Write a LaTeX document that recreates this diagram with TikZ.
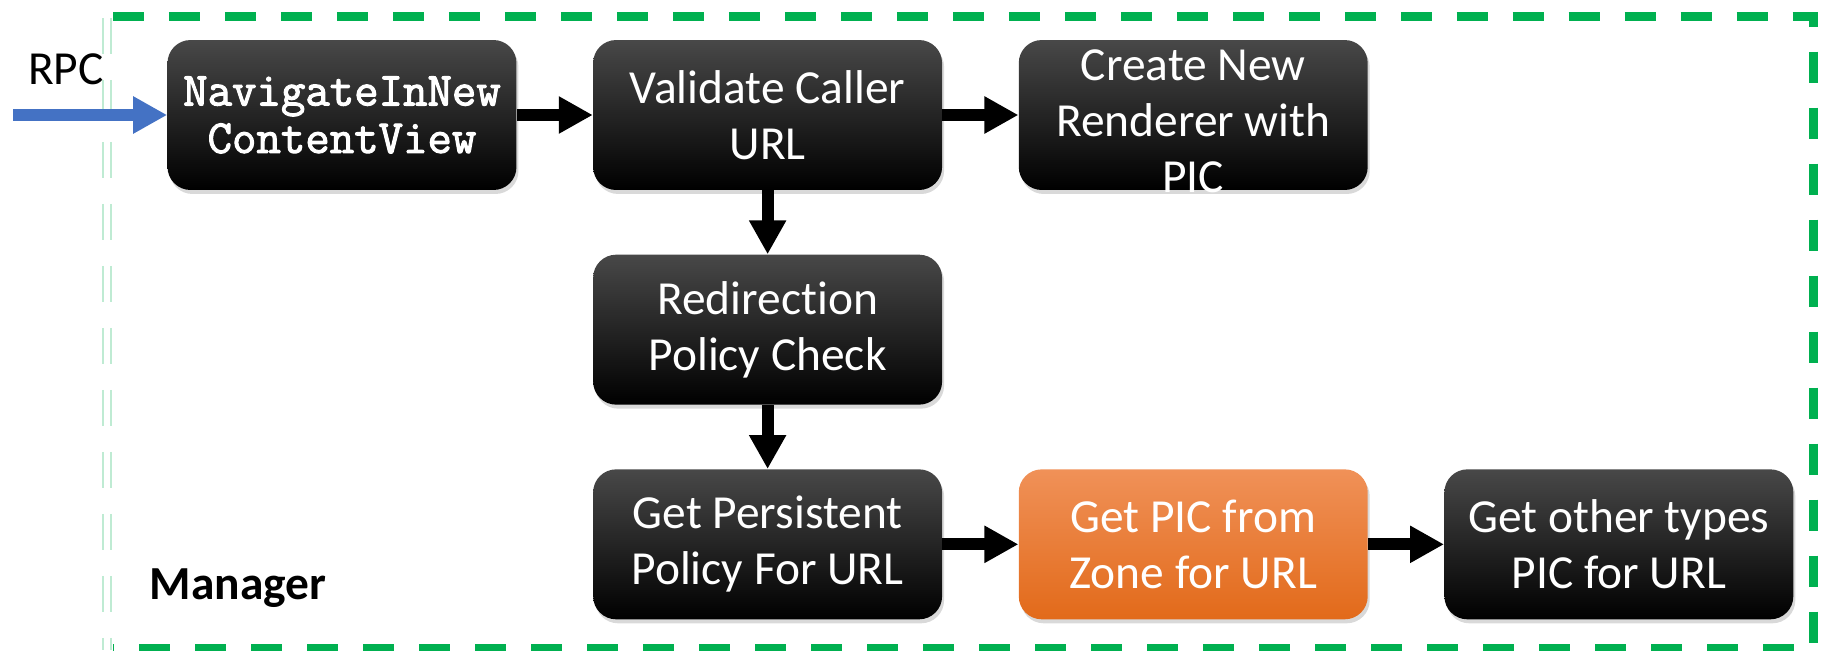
\documentclass[tikz,border=0pt]{standalone}
\usepackage{fontspec}
\setmainfont{Carlito}[Ligatures=NoCommon]
\newfontfamily\codefont{Latin Modern Mono}[FakeBold=2.2]
\usetikzlibrary{arrows.meta, positioning, shadows}

\definecolor{boxtop}{RGB}{72,72,72}
\definecolor{zonetop}{RGB}{240,145,88}
\definecolor{zonemid}{RGB}{244,124,40}
\definecolor{zonebot}{RGB}{226,106,26}
\definecolor{mgrgreen}{RGB}{0,176,80}
\definecolor{rpcblue}{RGB}{68,114,196}

\tikzset{
  stage/.style={rounded corners=0.46cm, minimum width=6.98cm, minimum height=3cm, align=center,
    text=white, font=\fontsize{27}{32}\selectfont,
    top color=boxtop, middle color=black, bottom color=black,
    drop shadow={shadow xshift=0.04cm, shadow yshift=-0.08cm, opacity=0.3}},
  codestage/.style={stage, font=\codefont\fontsize{27}{27}\selectfont},
  hotstage/.style={stage, top color=zonetop, middle color=zonemid, bottom color=zonebot},
  stagetext/.style={align=center, text=white, font=\fontsize{27}{32}\selectfont, yshift=-0.12cm},
  tag/.style={font=\fontsize{27}{32}\selectfont},
  flow/.style={-{Triangle[length=0.68cm, width=0.7cm]}, line width=0.24cm},
  rpc/.style={flow, rpcblue},
  boundary/.style={mgrgreen, line width=0.18cm, dash pattern=on 0.62cm off 0.5cm},
  faintedge/.style={mgrgreen!25, line width=0.6pt, dash pattern=on 0.72cm off 0.52cm}
}

\begin{document}
\begin{tikzpicture}[x=0.02cm, y=-0.02cm, node distance=1.28cm and 1.52cm]
    \useasboundingbox (0,0) rectangle (1822,650);

    % manager boundary
    \draw[boundary] (113,16) -- (1813,16) -- (1813,648) -- (113,648);
    \draw[faintedge] (103,18) -- (103,650);
    \draw[faintedge] (111,18) -- (111,650);

    \node[codestage] (navigate) at (342,115) {NavigateInNew\\ContentView};
    \node[stage, right=of navigate] (validate) {Validate Caller\\URL};
    \node[stage, right=of validate, label={[stagetext]center:Create New\\Renderer with\\PIC}] (renderer) {};
    \node[stage, below=of validate] (redirect) {Redirection\\Policy Check};
    \node[stage, below=of redirect] (persist) {Get Persistent\\Policy For URL};
    \node[hotstage, right=of persist] (zone) {Get PIC from\\Zone for URL};
    \node[stage, right=of zone] (others) {Get other types\\PIC for URL};

    \node[tag] (rpclabel) at (66,69) {RPC};
    \node[tag, font=\bfseries\fontsize{27}{32}\selectfont] (manager) at (238,588) {Manager};
    \coordinate (rpcin) at (13,115);

    \draw[rpc] (rpcin) -- (navigate);
    \draw[flow] (navigate) -- (validate);
    \draw[flow] (validate) -- (renderer);
    \draw[flow] (validate) -- (redirect);
    \draw[flow] (redirect) -- (persist);
    \draw[flow] (persist) -- (zone);
    \draw[flow] (zone) -- (others);
\end{tikzpicture}
\end{document}
